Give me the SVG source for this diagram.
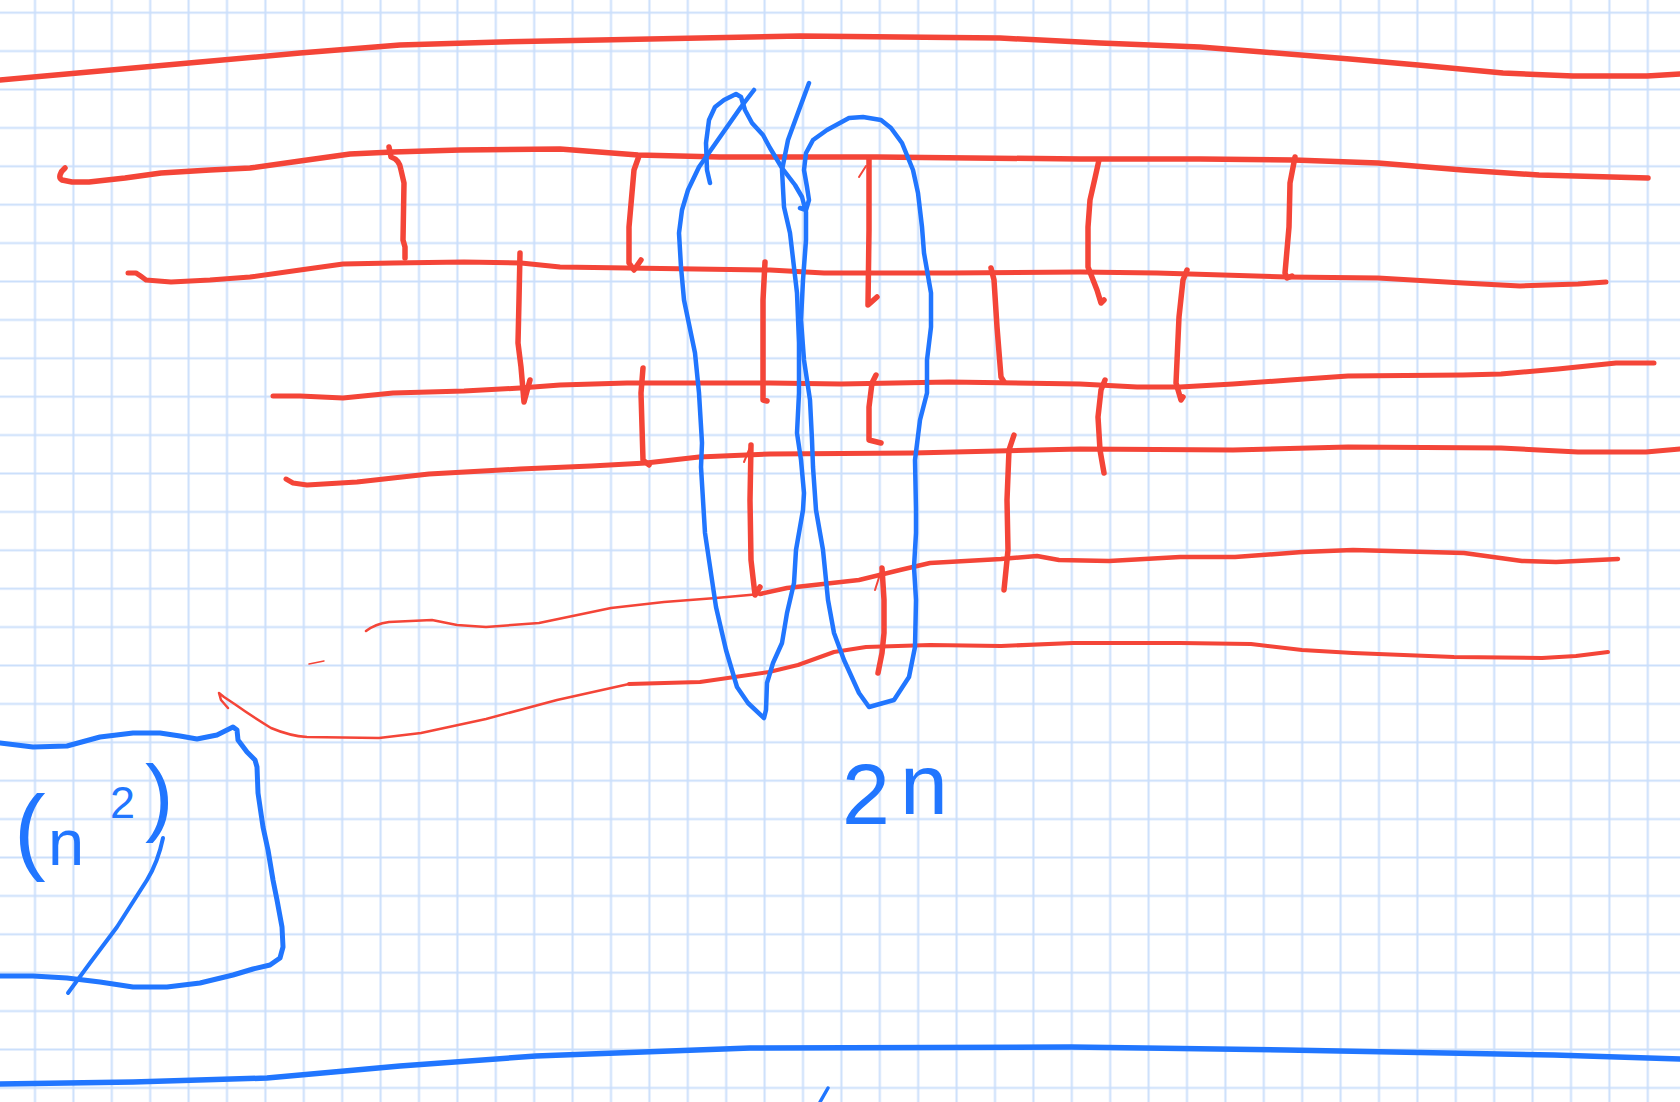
<svg xmlns="http://www.w3.org/2000/svg" width="1680" height="1102" viewBox="0 0 1680 1102">
<defs>
<pattern id="gridpat" x="15.8" y="-6.5" width="38.4" height="38.4" patternUnits="userSpaceOnUse">
<path d="M19.2 0V38.4M0 19.2H38.4" stroke="#cbdffb" stroke-width="2" fill="none"/>
</pattern>
<style>
.r{fill:none;stroke:#f44538;stroke-width:5.5;stroke-linecap:round;stroke-linejoin:round}
.rt{fill:none;stroke:#f44538;stroke-width:2;stroke-linecap:round;stroke-linejoin:round}
.b{fill:none;stroke:#2176ff;stroke-width:4.5;stroke-linecap:round;stroke-linejoin:round}
.bt{fill:#2176ff;font-family:"Liberation Sans",Arial,sans-serif}
</style>
</defs>
<rect width="1680" height="1102" fill="#ffffff"/>
<rect id="grid" width="1680" height="1102" fill="url(#gridpat)"/>

<g id="red-lines">
<path class="r" d="M0,80 L100,71 L200,62 L300,53 L400,45 L500,42 L600,40 L700,38 L800,36 L900,37 L1000,38 L1100,43 L1200,47 L1263,52 L1350,59 L1418,65 L1503,73 L1573,76 L1647,76 L1680,74"/>
<path class="r" d="M65,168 C60,172 58,178 62,180 L72,182 L89,182 L125,178 L161,173 L210,170 L250,168 L300,161 L350,154 L393,152 L460,150 L560,149 L638,155 L720,157 L877,157 L1080,159 L1200,159 L1294,160 L1378,163 L1463,170 L1539,175 L1648,178"/>
<path class="r" style="stroke-width:5" d="M128,273 L136,273 Q141,276 146,280 L171,282 L210,280 L250,277 L300,270 L343,264 L393,263 L464,262 L521,263 L560,267 L627,268 L770,270 L824,273 L949,273 L1080,272 L1157,273 L1287,277 L1378,278 L1463,283 L1520,286 L1578,284 L1606,282"/>
<path class="r" style="stroke-width:5" d="M273,396 L300,396 L343,398 L393,393 L464,391 L520,388 L560,385 L627,383 L770,383 L841,384 L949,382 L1080,384 L1137,387 L1180,387 L1233,384 L1290,380 L1348,376 L1463,375 L1501,374 L1558,369 L1616,363 L1654,363"/>
<path class="r" style="stroke-width:5" d="M286,479 L293,483 L307,485 L357,482 L429,474 L520,469 L591,466 L646,463 L699,457 L770,454 L913,453 L1080,449 L1233,450 L1348,447 L1501,448 L1578,452 L1646,452 L1680,449"/>
<path class="r" style="stroke-width:2.5" d="M366,631 Q375,624 389,622 L432,620 L457,625 L486,627 L539,623 L611,608 L664,602 L716,598 L760,594"/>
<path class="r" style="stroke-width:4.5" d="M760,594 L787,588 L859,580 L900,570 L930,563 L1001,559 L1037,556 L1059,560 L1109,561 L1180,557 L1235,557 L1302,552 L1353,550 L1464,553 L1522,561 L1556,562 L1618,559"/>
<path class="r" style="stroke-width:2.5" d="M228,708 L221,700 L219,693 L224,697 L236,705 Q250,715 271,728 Q290,736 307,737 L379,738 L421,733 L486,719 L557,700 L629,684"/>
<path class="r" style="stroke-width:4" d="M629,684 L700,682 L769,672 L798,665 L834,652 L866,647 L930,645 L1001,646 L1073,643 L1180,643 L1251,644 L1302,650 L1353,653 L1454,657 L1542,658 L1576,656 L1608,652"/>
<path class="rt" style="stroke-width:1.5" d="M309,664 L324,661"/>
</g>

<g id="connectors">
<path class="r" d="M389,147 L391,157 Q400,160 401,170 L404,183 L403,240 L405,247 L405,258"/>
<path class="r" d="M639,156 L634,170 L629,227 L629,263 L634,270 L641,260"/>
<path class="r" d="M869,158 L869,230 L868,305 L877,297"/>
<path class="rt" d="M859,177 L866,166"/>
<path class="r" d="M1099,160 L1095,178 L1090,200 L1088,227 L1088,267 L1097,290 L1101,303 L1104,300"/>
<path class="r" d="M1295,157 L1290,183 L1289,227 L1285,273 L1287,278 L1292,276"/>
<path class="r" d="M520,253 L519,300 L518,343 L521,367 L524,402 L530,380"/>
<path class="r" d="M765,262 L763,300 L763,360 L763,400 L767,401"/>
<path class="r" d="M1187,270 L1183,280 L1179,317 L1176,383 L1181,400 L1183,397"/>
<path class="r" d="M991,268 L994,280 L997,327 L1001,377 L1004,382"/>
<path class="r" d="M643,368 L641,393 L643,460 L649,465"/>
<path class="r" d="M876,375 L872,383 L869,407 L869,440 L881,443"/>
<path class="r" d="M1105,380 L1101,390 L1098,417 L1100,450 L1104,473"/>
<path class="r" d="M751,445 L750,500 L751,560 L755,595 L760,587"/>
<path class="rt" d="M751,445 L744,462"/>
<path class="r" d="M1014,435 L1009,450 L1007,500 L1008,550 L1004,590"/>
<path class="r" d="M882,568 L884,600 L884,633 L882,653 L878,673"/>
<path class="rt" d="M882,568 L875,590"/>
</g>

<g id="loop-left">
<path class="b" d="M754,90 L741,107 L720,137 L699,167 L688,190 L682,210 L679,233 L681,267 L684,300 L695,353 L699,393 L702,443 L701,467 L705,533 L716,607 L726,650 L737,687 L748,703 L764,718 L766,710 L767,683 L773,663 L782,643 L787,613 L794,583 L796,550 L803,510 L804,493 L801,460 L797,433 L799,393 L799,343 L797,293 L790,233 L784,207 L782,170 L788,140 L799,110 L809,83"/>
</g>
<g id="loop-right">
<path class="b" d="M710,183 L707,170 L706,143 L709,120 L715,107 L724,100 L736,94 L741,97 L745,110 L752,123 L763,135 L770,148 L782,168 L795,185 L802,197 L806,212 L806,240 L803,280 L801,320 L804,360 L810,400 L812,440 L813,467 L816,510 L823,550 L828,600 L834,633 L844,660 L859,693 L869,707 L894,700 L909,677 L915,647 L916,600 L914,567 L916,533 L916,510 L915,460 L920,420 L927,393 L927,360 L931,327 L931,293 L924,253 L922,227 L918,193 L913,170 L902,143 L891,128 L881,120 L863,117 L849,118 L827,130 L813,140 L806,153 L804,170 L807,187 L809,200 L806,210 L800,208"/>
</g>

<g id="box">
<path class="b" style="stroke-width:5" d="M0,743 L33,747 L67,746 L100,737 L133,733 L160,733 L180,736 L197,739 L217,735 L233,727 L237,730 L238,740 L247,752 L255,760 L257,767 L258,793 L263,827 L268,850 L273,880 L277,900 L282,927 L283,947 L280,958 L270,965 L253,969 L233,975 L200,983 L167,987 L133,987 L100,982 L67,978 L33,976 L0,976"/>
<text class="bt" x="14" y="862" font-size="95">(</text>
<text class="bt" x="48" y="865" font-size="65">n</text>
<text class="bt" x="110" y="818" font-size="45">2</text>
<text class="bt" x="145" y="825" font-size="85">)</text>
<path class="b" style="stroke-width:4" d="M163,838 Q158,862 147,880 L117,927 L90,963 L68,993"/>
</g>

<g id="label-2n">
<text class="bt" font-size="86"><tspan x="842" y="824">2</tspan><tspan x="900" y="814">n</tspan></text>
</g>

<g id="bottom-line">
<path class="b" style="stroke-width:5.5" d="M0,1084 L133,1082 L267,1078 L400,1066 L536,1056 L750,1048 L1071,1047 L1286,1050 L1554,1055 L1680,1059"/>
<path class="b" style="stroke-width:3.5" d="M828,1088 L820,1102"/>
</g>
</svg>
